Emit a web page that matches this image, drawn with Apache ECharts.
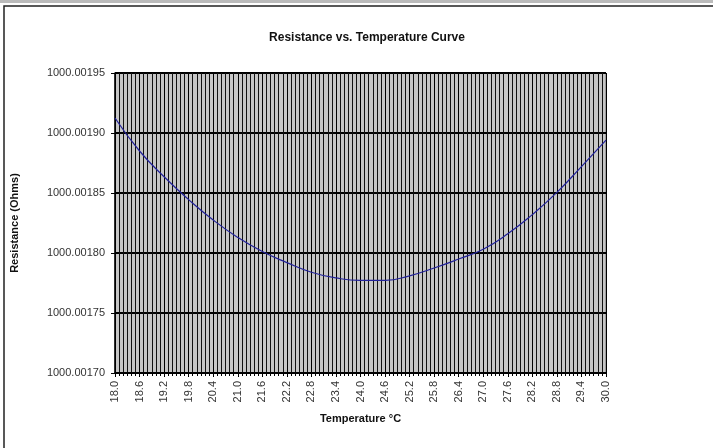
<!DOCTYPE html>
<html>
<head>
<meta charset="utf-8">
<script src="https://cdn.jsdelivr.net/npm/echarts@6/dist/echarts.min.js"></script>
<style>html,body{margin:0;padding:0;background:#fff}#c{width:713px;height:448px}</style>
</head>
<body>
<div id="c"></div>
<script>
const titleText = 'Resistance vs. Temperature Curve';
const xName = 'Temperature °C';
const yName = 'Resistance (Ohms)';
const temps = [18.0, 18.6, 19.2, 19.8, 20.4, 21.0, 21.6, 22.2, 22.8, 23.4, 24.0, 24.6, 25.2, 25.8, 26.4, 27.0, 27.6, 28.2, 28.8, 29.4, 30.0];
const resistance = [1000.0019125, 1000.0018850, 1000.0018635, 1000.0018445, 1000.0018275, 1000.0018130, 1000.0018012, 1000.0017920, 1000.0017840, 1000.0017792, 1000.0017772, 1000.0017772, 1000.0017810, 1000.0017875, 1000.0017950, 1000.0018032, 1000.0018160, 1000.0018320, 1000.0018505, 1000.0018720, 1000.0018940];
const yMin = 1000.00170, yMax = 1000.00195, yStep = 0.00005;
const xMin = 18.0, xMax = 30.0, xStep = 0.6;

const font = 'Liberation Sans, Arial, sans-serif';
const chart = echarts.init(document.getElementById('c'));
chart.setOption({
  animation: false,
  backgroundColor: '#fff',
  title: { text: titleText, left: 362, top: 27, textAlign: 'center',
    textStyle: { fontFamily: font, fontSize: 12, fontWeight: 'bold', color: '#111' } },
  graphic: [
    { type: 'rect', shape: { x: 0, y: 0, width: 713, height: 3 }, style: { fill: '#bbb' }, silent: true },
    { type: 'rect', shape: { x: 4, y: 6, width: 760, height: 500 },
      style: { fill: 'none', stroke: '#222', lineWidth: 1.5 }, silent: true }],
  grid: { left: 115, right: 107, top: 73, bottom: 75, show: true, borderColor: '#777', borderWidth: 1, backgroundColor: '#c6c6c6' },
  xAxis: {
    type: 'value', min: xMin, max: xMax, interval: xStep,
    name: xName, nameLocation: 'middle', nameGap: 40,
    nameTextStyle: { fontFamily: font, fontSize: 11, fontWeight: 'bold', color: '#111' },
    axisLine: { show: true, lineStyle: { color: '#000', width: 1.5 } },
    axisTick: { show: true, length: 4, lineStyle: { color: '#000' } },
    minorTick: { show: true, splitNumber: 6, length: 3, lineStyle: { color: '#000' } },
    axisLabel: { rotate: 90, fontFamily: font, fontSize: 11, color: '#333', margin: 8,
      formatter: v => v.toFixed(1) },
    splitLine: { show: true, lineStyle: { color: '#000', width: 1 } },
    minorSplitLine: { show: true, lineStyle: { color: '#111', width: 1 } }
  },
  yAxis: {
    type: 'value', min: yMin, max: yMax, interval: yStep,
    name: yName, nameLocation: 'middle', nameGap: 95,
    nameTextStyle: { fontFamily: font, fontSize: 11, fontWeight: 'bold', color: '#111' },
    axisLine: { show: true, lineStyle: { color: '#000', width: 1.5 } },
    axisTick: { show: true, length: 4, lineStyle: { color: '#000' } },
    axisLabel: { fontFamily: font, fontSize: 11, color: '#333', margin: 10,
      formatter: v => v.toFixed(5) },
    splitLine: { show: true, lineStyle: { color: '#000', width: 2 } }
  },
  series: [{
    type: 'line', smooth: true, showSymbol: false,
    data: temps.map((t, i) => [t, resistance[i]]),
    lineStyle: { color: '#22229a', width: 1.2 }, z: 5
  }]
});
</script>
</body>
</html>
